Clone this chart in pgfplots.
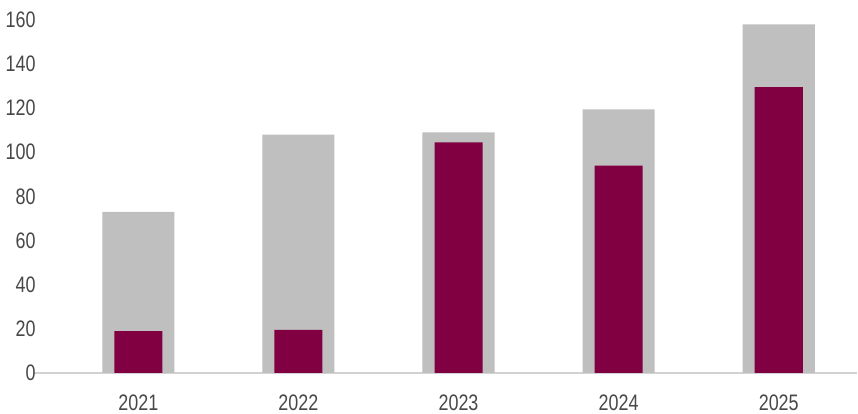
\documentclass[border=0pt]{standalone}
\usepackage{pgfplots}
\pgfplotsset{compat=1.18}
\usepackage{fontspec}
\setmainfont{Liberation Sans}
\definecolor{barGray}{RGB}{191,191,191}
\definecolor{barMaroon}{RGB}{128,0,66}
\definecolor{txt}{RGB}{72,72,72}
\definecolor{axline}{RGB}{210,210,210}
\begin{document}
\begin{tikzpicture}
\begin{axis}[
  scale only axis,
  width=411.5pt, height=186.5pt,
  xmin=-0.65, xmax=4.49,
  ymin=0, ymax=169,
  ytick={0,20,...,160},
  xtick={0,1,2,3,4},
  xticklabels={2021,2022,2023,2024,2025},
  axis x line*=bottom, axis y line*=left,
  x axis line style={draw=axline, line width=0.8pt},
  y axis line style={draw=none},
  major tick length=0pt,
  tick label style={font=\fontsize{11.2}{13}\selectfont, text=txt, xscale=0.8},
  yticklabel style={inner xsep=3.5pt, inner ysep=0pt, xshift=4.5pt},
  xticklabel style={inner xsep=0pt, inner ysep=1.5pt, yshift=-9pt},
  /pgf/number format/assume math mode=true,
  ybar, bar shift=0pt,
]
\addplot[fill=barGray, draw=none, bar width=0.45] coordinates {(0,73) (1,108) (2,109) (3,119.5) (4,158)};
\addplot[fill=barMaroon, draw=none, bar width=0.3] coordinates {(0,19) (1,19.5) (2,104.5) (3,94) (4,129.5)};
\end{axis}
\end{tikzpicture}
\end{document}
